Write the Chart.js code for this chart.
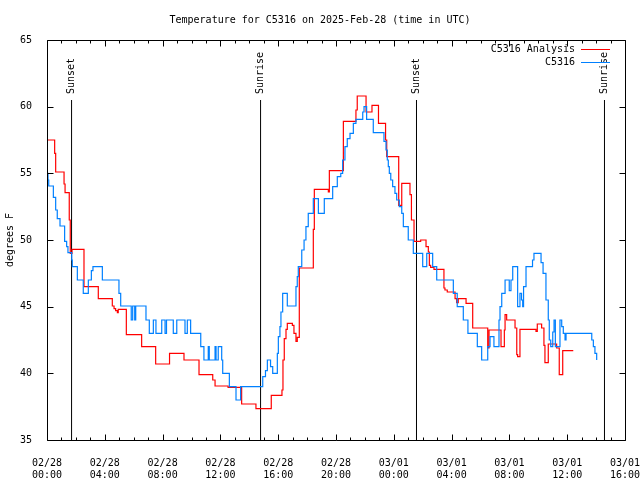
<!DOCTYPE html>
<html>
<head>
<meta charset="utf-8">
<script src="https://cdn.jsdelivr.net/npm/chart.js@4.4.0/dist/chart.umd.min.js"></script>
<style>
  body { margin: 0; background: #fff; }
  canvas { display: block; }
</style>
</head>
<body>
<canvas id="mycanvas" width="640" height="480"></canvas>
<script>
// hours since 02/28 00:00 UTC, temperature in F
var redHours = [0, 0.53, 0.60, 1.18, 1.25, 1.54, 1.61, 1.73, 2.56, 3.55, 4.52, 4.64, 4.75, 4.87, 4.93, 5.49, 6.55, 7.52, 8.48, 9.48,
  10.52, 11.47, 11.63, 12.53, 13.47, 14.46, 15.52, 16.26, 16.33, 16.42, 16.54, 16.63, 16.98, 17.09, 17.23, 17.32, 17.46, 18.43, 18.50, 19.47,
  19.54, 20.51, 21.38, 21.47, 22.08, 22.49, 22.94, 23.43, 23.51, 24.34, 24.55, 25.12, 25.22, 25.40, 25.86, 26.23, 26.39, 26.46, 26.55, 26.78,
  27.47, 27.54, 27.70, 28.24, 28.35, 28.46, 29.00, 29.46, 30.50, 30.59, 31.42, 31.65, 31.70, 31.81, 32.39, 32.51, 32.57, 32.73, 33.84, 33.93,
  34.23, 34.39, 34.46, 34.69, 35.27, 35.45, 35.69, 36.42];
var redTemps = [57.5, 56.5, 55.1, 54.2, 53.55, 51.5, 49.0, 49.3, 46.5, 45.6, 45.05, 44.85, 44.7, 44.55, 44.8, 42.9, 42.0, 40.7, 41.5, 41.0,
  39.9, 39.5, 39.05, 38.95, 37.7, 37.35, 38.35, 38.75, 41.0, 42.6, 43.3, 43.75, 43.6, 43.0, 42.4, 42.7, 47.9, 50.8, 53.8, 53.6,
  55.2, 58.9, 59.75, 60.8, 59.6, 60.1, 58.75, 57.5, 56.25, 52.6, 54.25, 53.4, 51.5, 49.9, 50.0, 49.5, 49.1, 48.1, 47.95, 47.8,
  46.4, 46.25, 46.1, 45.6, 45.3, 45.6, 45.25, 43.4, 41.9, 43.25, 42.0, 43.25, 44.4, 44.0, 43.4, 41.4, 41.25, 43.3, 43.15, 43.7,
  43.4, 42.1, 40.8, 42.2, 41.9, 39.9, 41.7, 41.7];

var blueHours = [0, 0.07, 0.12, 0.44, 0.60, 0.71, 0.90, 1.22, 1.36, 1.45, 1.71, 1.75, 2.10, 2.51, 2.86, 3.07, 3.18, 3.83, 4.98, 5.10,
  5.83, 5.93, 6.07, 6.14, 6.85, 7.08, 7.36, 7.54, 7.94, 8.17, 8.27, 8.74, 8.98, 9.55, 9.71, 9.94, 10.64, 10.86, 11.16, 11.23,
  11.63, 11.70, 11.85, 12.09, 12.16, 12.62, 13.08, 13.40, 14.93, 15.12, 15.25, 15.47, 15.62, 15.94, 16.01, 16.12, 16.19, 16.31, 16.63, 17.23,
  17.32, 17.39, 17.63, 17.79, 17.92, 18.08, 18.43, 18.78, 19.19, 19.77, 20.09, 20.33, 20.46, 20.62, 20.78, 20.97, 21.20, 21.38, 21.85, 21.94,
  22.12, 22.58, 23.32, 23.46, 23.55, 23.62, 23.69, 23.79, 23.92, 24.08, 24.20, 24.38, 24.55, 24.66, 25.00, 25.35, 26.00, 26.28, 26.69, 26.97,
  28.12, 28.39, 28.81, 29.13, 29.78, 30.08, 30.50, 30.66, 30.93, 31.28, 31.35, 31.47, 31.70, 31.99, 32.11, 32.23, 32.57, 32.73, 32.84, 32.92,
  32.98, 33.15, 33.60, 33.70, 34.19, 34.33, 34.53, 34.69, 34.76, 34.86, 35.00, 35.09, 35.18, 35.50, 35.62, 35.73, 35.85, 35.92, 37.70, 37.81,
  37.92, 38.04];
var blueTemps = [55.0, 54.5, 54.05, 53.2, 52.25, 51.6, 51.05, 49.9, 49.5, 49.05, 48.5, 48.0, 47.0, 46.0, 47.0, 47.7, 48.0, 47.0, 46.0, 45.05,
  44.0, 45.05, 44.0, 45.05, 44.0, 43.0, 44.0, 43.0, 44.0, 43.0, 44.0, 43.0, 44.0, 43.0, 44.0, 43.0, 42.0, 41.0, 42.0, 41.0,
  42.0, 41.0, 42.0, 41.0, 40.0, 39.0, 38.0, 39.0, 39.75, 40.2, 41.0, 40.5, 40.0, 41.5, 42.75, 43.5, 44.6, 46.0, 45.05, 46.5,
  47.25, 48.0, 49.25, 50.0, 51.0, 52.0, 53.1, 52.0, 53.1, 54.0, 54.75, 55.0, 56.0, 57.0, 57.6, 58.0, 58.75, 59.05, 59.6, 60.0,
  59.05, 58.05, 57.4, 56.75, 56.0, 55.5, 55.0, 54.5, 54.0, 53.5, 53.0, 52.5, 52.0, 51.0, 50.0, 49.0, 48.0, 49.0, 48.0, 47.0,
  46.0, 45.0, 44.0, 43.0, 42.0, 41.0, 42.0, 42.75, 42.0, 44.0, 45.0, 46.0, 47.0, 46.2, 47.0, 48.0, 45.0, 46.0, 45.5, 45.0,
  46.5, 48.0, 48.5, 49.0, 48.3, 47.5, 45.5, 44.0, 42.5, 42.0, 43.1, 44.0, 42.0, 44.0, 43.5, 43.0, 42.5, 43.0, 42.5, 42.0,
  41.5, 41.0];

var sunHours = [1.70, 14.78, 25.57, 38.58];
var sunNames = ['Sunset', 'Sunrise', 'Sunset', 'Sunrise'];
var sunTop = 60.5;

var tickDates = ['02/28', '02/28', '02/28', '02/28', '02/28', '02/28', '03/01', '03/01', '03/01', '03/01', '03/01'];
var tickTimes = ['00:00', '04:00', '08:00', '12:00', '16:00', '20:00', '00:00', '04:00', '08:00', '12:00', '16:00'];

var redColor = '#ff0000';
var blueColor = '#0080ff';
var monoFont = "'DejaVu Sans Mono', 'Liberation Mono', monospace";

Chart.defaults.font.family = monoFont;
Chart.defaults.font.size = 10;
Chart.defaults.color = '#000';

function toPoints(hours, temps) {
  var pts = [];
  for (var i in hours) {
    pts.push({x: hours[i], y: temps[i]});
  }
  return pts;
}

var sunPoints = [];
for (var i in sunHours) {
  sunPoints.push({x: sunHours[i], y: 35});
  sunPoints.push({x: sunHours[i], y: sunTop});
  sunPoints.push({x: sunHours[i], y: null});
}

// border, inward ticks, sun labels and legend in gnuplot style
var gnuplotFrame = {
  id: 'gnuplotFrame',
  afterDraw: function(chart) {
    var ctx = chart.ctx;
    var a = chart.chartArea;
    var xs = chart.scales.x;
    var ys = chart.scales.y;
    var L = Math.round(a.left) + 0.5, R = Math.round(a.right) + 0.5;
    var T = Math.round(a.top) + 0.5, B = Math.round(a.bottom) + 0.5;
    ctx.save();
    ctx.strokeStyle = '#000';
    ctx.lineWidth = 1;
    ctx.beginPath();
    ctx.rect(L, T, R - L, B - T);
    for (var h = 0; h <= 40; h++) {
      var px = Math.round(xs.getPixelForValue(h)) + 0.5;
      var len = (h % 4 === 0) ? 6 : 3;
      ctx.moveTo(px, B); ctx.lineTo(px, B - len);
      ctx.moveTo(px, T); ctx.lineTo(px, T + len);
    }
    for (var v = 35; v <= 65; v += 5) {
      var py = Math.round(ys.getPixelForValue(v)) + 0.5;
      ctx.moveTo(L, py); ctx.lineTo(L + 6, py);
      ctx.moveTo(R, py); ctx.lineTo(R - 6, py);
    }
    ctx.stroke();

    ctx.fillStyle = '#000';
    ctx.font = '10px ' + monoFont;
    for (var i in sunHours) {
      ctx.save();
      ctx.translate(xs.getPixelForValue(sunHours[i]), ys.getPixelForValue(sunTop) - 6);
      ctx.rotate(-Math.PI / 2);
      ctx.textAlign = 'left';
      ctx.textBaseline = 'middle';
      ctx.fillText(sunNames[i], 0, 0);
      ctx.restore();
    }

    var items = [['C5316 Analysis', redColor], ['C5316', blueColor]];
    ctx.textAlign = 'right';
    ctx.textBaseline = 'middle';
    for (var k = 0; k < items.length; k++) {
      var ly = 49.5 + k * 13;
      ctx.fillStyle = '#000';
      ctx.fillText(items[k][0], 575, ly);
      ctx.strokeStyle = items[k][1];
      ctx.beginPath();
      ctx.moveTo(581, ly); ctx.lineTo(610, ly);
      ctx.stroke();
    }
    ctx.restore();
  }
};

var ctx = document.getElementById('mycanvas');
var LineGraph = new Chart(ctx, {
  type: 'line',
  data: {
    datasets: [
      {
        label: 'C5316 Analysis',
        data: toPoints(redHours, redTemps),
        borderColor: redColor,
        borderWidth: 1.2,
        pointRadius: 0,
        stepped: true,
        fill: false,
        order: 2
      },
      {
        label: 'C5316',
        data: toPoints(blueHours, blueTemps),
        borderColor: blueColor,
        borderWidth: 1.2,
        pointRadius: 0,
        stepped: true,
        fill: false,
        order: 1
      },
      {
        label: 'sun',
        data: sunPoints,
        borderColor: '#000',
        borderWidth: 1,
        pointRadius: 0,
        spanGaps: false,
        fill: false,
        order: 3
      }
    ]
  },
  options: {
    responsive: false,
    animation: false,
    events: [],
    layout: { padding: { left: 0, right: 0, top: 0, bottom: 0 } },
    plugins: {
      legend: { display: false },
      tooltip: { enabled: false },
      title: {
        display: true,
        text: 'Temperature for C5316 on 2025-Feb-28 (time in UTC)',
        font: { size: 10, weight: 'normal' },
        color: '#000',
        padding: { top: 14, bottom: 14 }
      }
    },
    scales: {
      x: {
        type: 'linear',
        min: 0,
        max: 40,
        grid: { display: false },
        border: { display: false },
        ticks: {
          stepSize: 4,
          maxRotation: 0,
          autoSkip: false,
          padding: 9,
          color: '#000',
          callback: function(value) {
            var idx = Math.round(value / 4);
            return [tickDates[idx], tickTimes[idx]];
          }
        },
        afterFit: function(scale) {
          scale.height = 40;
          scale.paddingLeft = 0;
          scale.paddingRight = 15;
        }
      },
      y: {
        min: 35,
        max: 65,
        grid: { display: false },
        border: { display: false },
        ticks: { stepSize: 5, padding: 7, color: '#000' },
        title: {
          display: true,
          text: 'degrees F',
          color: '#000',
          font: { size: 10 },
          padding: { top: 4, bottom: 0 }
        },
        afterFit: function(scale) { scale.width = 47; }
      }
    }
  },
  plugins: [gnuplotFrame]
});
</script>
</body>
</html>
